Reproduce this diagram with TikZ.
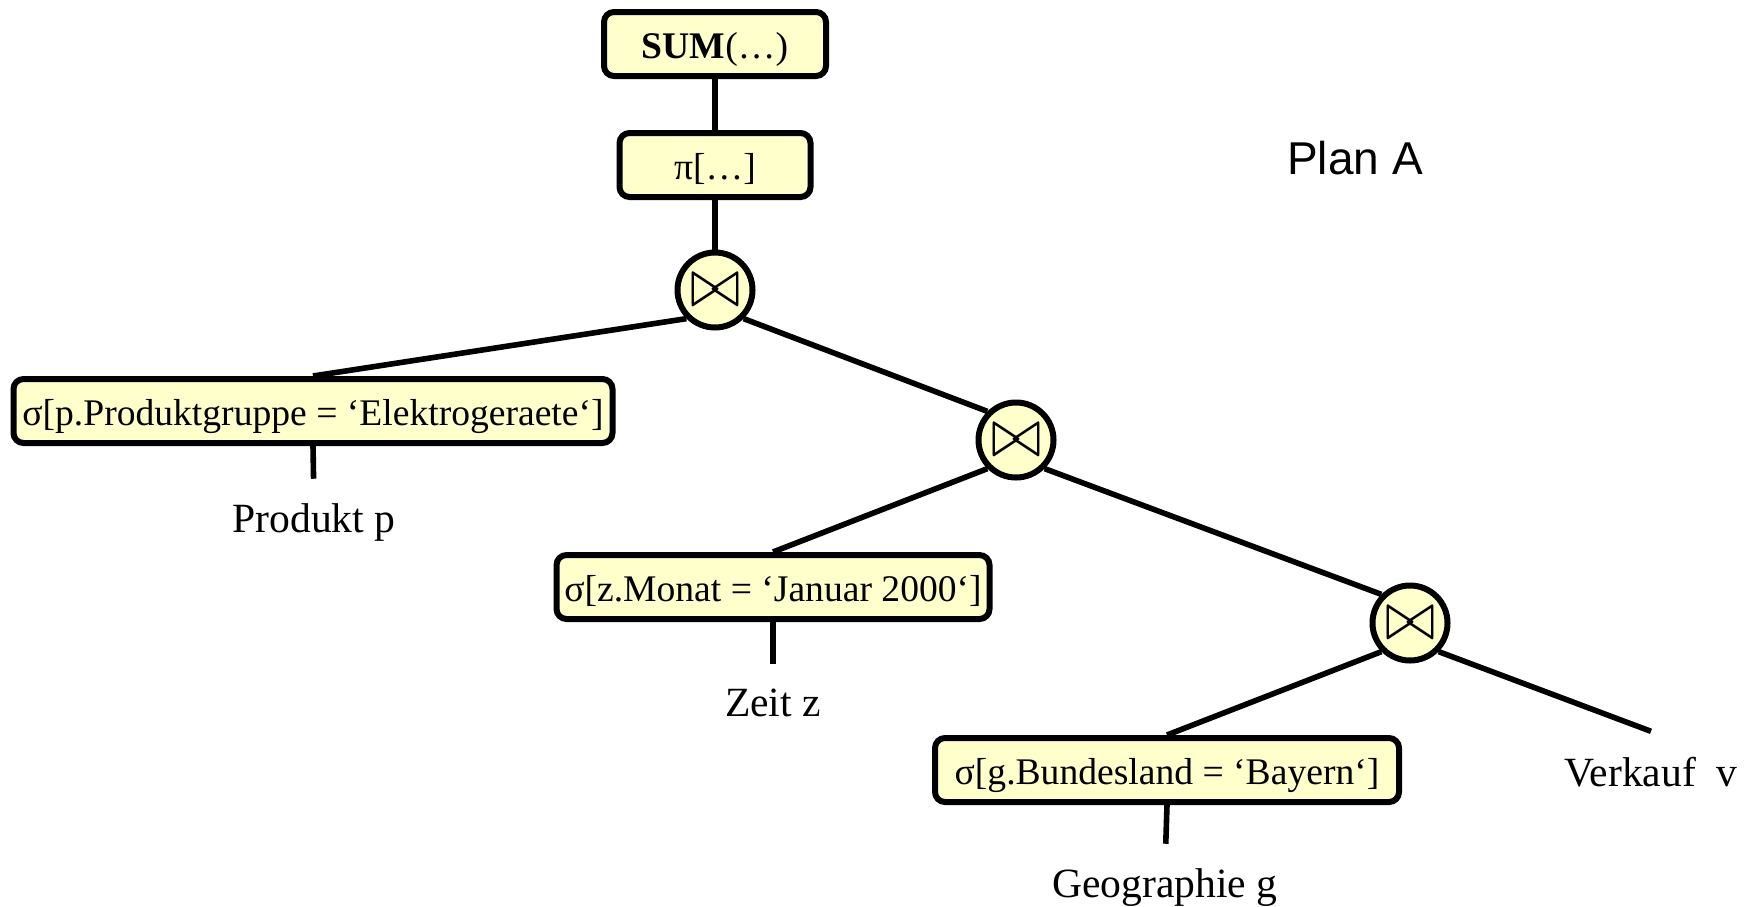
\documentclass[tikz,border=0pt]{standalone}
\usepackage{fontspec}
\setmainfont{Liberation Serif}
\newfontfamily\planfont{Liberation Sans}
\usetikzlibrary{calc}
\definecolor{opyellow}{HTML}{FFFFCC}
\tikzset{
  opbox/.style={draw,fill=opyellow,line width=3pt,rounded corners=5pt,
    minimum height=32pt,inner sep=0pt,text height=16pt,text depth=1.2pt,
    font=\fontsize{18.8}{22}\selectfont},
  joinop/.style={draw,fill=opyellow,line width=3pt,circle,minimum size=37.5pt,inner sep=0pt},
  leaf/.style={inner sep=0pt,anchor=base,font=\fontsize{20.8}{24}\selectfont},
  edge/.style={line width=2.8pt}
}
\newcommand\joinsym{\resizebox*{25pt}{16pt}{$\bowtie$}}
\begin{document}
\begin{tikzpicture}[x=0.5pt,y=-0.5pt]
  \useasboundingbox (0,0) rectangle (1756,906);
  % Aggregation and projection
  \node[opbox,minimum width=111pt] (sum) at (715,44) {\textbf{SUM}(…)};
  \node[opbox,minimum width=95.5pt] (proj) at (715,165) {π[…]};
  % The joins
  \node[joinop] (join1) at (715,290) {\joinsym};
  \node[joinop] (join2) at (1016,440) {\joinsym};
  \node[joinop] (join3) at (1410,623) {\joinsym};
  % The selections
  \node[opbox,minimum width=299.5pt] (sel1) at (313,411) {σ[p.Produktgruppe = ‘Elektrogeraete‘]};
  \node[opbox,minimum width=216.5pt] (sel2) at (773,587) {σ[z.Monat = ‘Januar 2000‘]};
  \node[opbox,minimum width=232pt] (sel3) at (1167,770) {σ[g.Bundesland = ‘Bayern‘]};
  % The tables
  \node[leaf] (prod) at (314,532) {Produkt p};
  \node[leaf] (zeit) at (773,716) {Zeit z};
  \node[leaf] (geo) at (1165,897) {Geographie g};
  \node[leaf] (verk) at (1651,786) {Verkauf\ \ v};
  \coordinate (verktop) at ([yshift=12.5pt]verk.north);
  \node[leaf] (plan) at (1355,174) {\planfont\fontsize{23}{27}\selectfont Plan A};

  % Edges
  \draw[edge] (sum) -- (proj);
  \draw[edge] (proj) -- (join1);
  \draw[edge] (join1.225) -- (sel1.north);
  \draw[edge] (join1.315) -- (join2.135);
  \draw[edge] (join2.225) -- (sel2.north);
  \draw[edge] (join2.315) -- (join3.135);
  \draw[edge] (join3.225) -- (sel3.north);
  \draw[edge] (join3.315) -- (verktop);
  \draw[edge,shorten >=12pt] (sel1.south) -- (prod.north);
  \draw[edge,shorten >=12pt] (sel2.south) -- (zeit.north);
  \draw[edge,shorten >=12pt] (sel3.south) -- (geo.north);
\end{tikzpicture}
\end{document}
